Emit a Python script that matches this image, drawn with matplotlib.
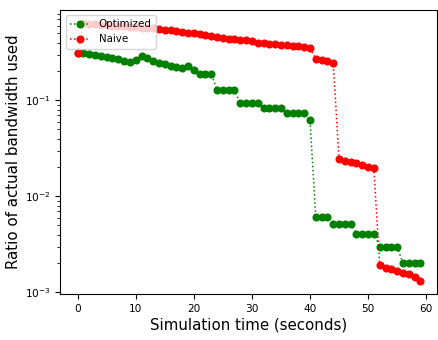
import matplotlib

matplotlib.use("Agg")
import matplotlib.pyplot as plt

# simulation time, one sample per second
time_s = list(range(60))

optimized = [
    0.314, 0.309, 0.301, 0.294, 0.287, 0.280, 0.274, 0.267, 0.258, 0.252,
    0.264, 0.289, 0.279, 0.258, 0.243, 0.237, 0.229, 0.221, 0.218, 0.226,
    0.205, 0.189, 0.189, 0.189, 0.128, 0.128, 0.128, 0.128, 0.093, 0.093,
    0.093, 0.093, 0.083, 0.083, 0.083, 0.083, 0.073, 0.073, 0.073, 0.073,
    0.062, 0.0061, 0.0061, 0.0061, 0.0052, 0.0052, 0.0052, 0.0052, 0.0041, 0.0041,
    0.0041, 0.0041, 0.0030, 0.0030, 0.0030, 0.0030, 0.0020, 0.0020, 0.0020, 0.0020,
]

naive = [
    0.31, 0.64, 0.63, 0.62, 0.615, 0.61, 0.60, 0.595, 0.59, 0.58,
    0.575, 0.57, 0.565, 0.56, 0.555, 0.545, 0.535, 0.525, 0.515, 0.505,
    0.50, 0.49, 0.48, 0.47, 0.46, 0.45, 0.44, 0.435, 0.425, 0.42,
    0.41, 0.40, 0.395, 0.39, 0.385, 0.38, 0.375, 0.37, 0.365, 0.36,
    0.35, 0.27, 0.262, 0.255, 0.246, 0.0243, 0.0233, 0.0228, 0.0221, 0.0212,
    0.0204, 0.0195, 0.00191, 0.00181, 0.00174, 0.00167, 0.00160, 0.00154, 0.00145, 0.00131,
]

fig = plt.figure(figsize=(4.39, 3.4), dpi=100)
ax = fig.add_axes([60.5 / 439, 1 - 294 / 340, 377 / 439, 284 / 340])

ax.plot(time_s, optimized, color="green", ls=":", marker="o", ms=4.8, lw=1.1, label="Optimized")
ax.plot(time_s, naive, color="red", ls=":", marker="o", ms=4.8, lw=1.1, label="Naive")
ax.set_yscale("log")

ax.set_xlabel("Simulation time (seconds)", fontsize=10.8, labelpad=3)
ax.set_ylabel("Ratio of actual bandwidth used", fontsize=10.8, labelpad=3)
ax.tick_params(labelsize=7.6)
ax.legend(loc="upper left", fontsize=7.4)

fig.savefig("out.png", dpi=100)
